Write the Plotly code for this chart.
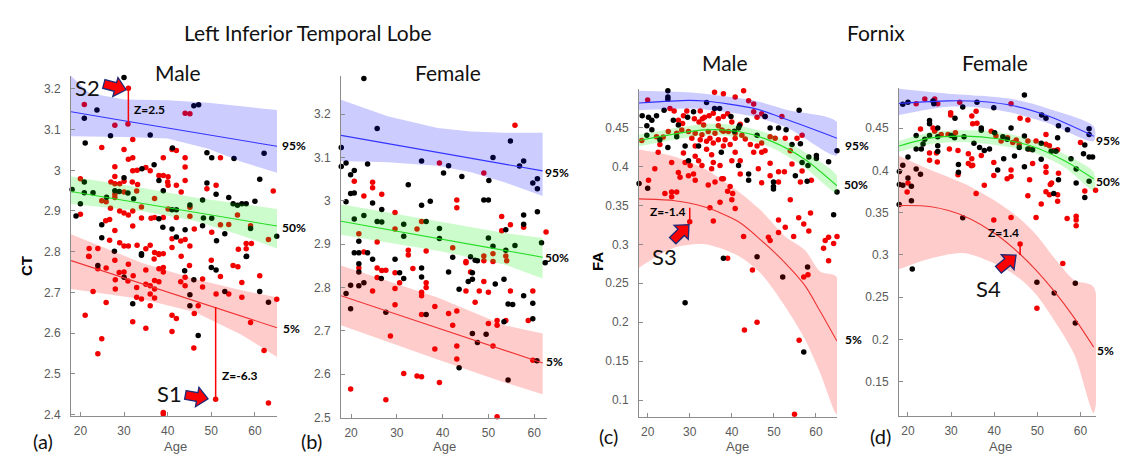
import math
import plotly.graph_objects as go

W, H = 1130, 455

# ---------------- tick labels ----------------
x_ticks = [20, 30, 40, 50, 60]
a_yticks = [2.4, 2.5, 2.6, 2.7, 2.8, 2.9, 3.0, 3.1, 3.2]
a_ytext = ["2.4", "2.5", "2.6", "2.7", "2.8", "2.9", "3", "3.1", "3.2"]
b_yticks = [2.5, 2.6, 2.7, 2.8, 2.9, 3.0, 3.1, 3.2]
b_ytext = ["2.5", "2.6", "2.7", "2.8", "2.9", "3", "3.1", "3.2"]
c_yticks = [0.1, 0.15, 0.2, 0.25, 0.3, 0.35, 0.4, 0.45]
c_ytext = ["0.1", "0.15", "0.2", "0.25", "0.3", "0.35", "0.4", "0.45"]
d_yticks = [0.15, 0.2, 0.25, 0.3, 0.35, 0.4, 0.45]
d_ytext = ["0.15", "0.2", "0.25", "0.3", "0.35", "0.4", "0.45"]

# ---------------- (a) Left inferior temporal lobe, male ----------------
a_black_age = [30.0, 20.9, 23.8, 21.1, 26.9, 36.0, 46.0, 47.1, 41.1, 49.0, 50.1, 55.2, 62.1, 34.1, 36.9, 30.0,
               38.0, 39.0, 20.9, 18.1, 19.0, 20.0, 20.9, 22.9, 26.0, 27.9, 28.9, 30.9, 32.2, 41.0, 42.0, 45.1,
               49.0, 51.1, 48.0, 54.0, 55.0, 56.0, 57.0, 58.0, 60.0, 61.1, 65.0, 59.0, 53.1, 50.1, 48.2, 51.2,
               48.0, 38.9, 38.0, 41.0, 42.0, 44.0, 24.9, 24.9, 27.8, 34.0, 58.0,
               24.0, 30.0, 32.0, 34.0, 43.9, 46.0, 45.1, 45.1, 47.0, 50.0, 51.1, 53.1, 58.1, 61.1, 63.1]
a_black_ct = [3.228, 3.128, 3.148, 3.067, 3.085, 3.087, 3.159, 3.161, 3.055, 3.043, 3.031, 3.029, 3.042, 3.004, 3.014, 2.982,
              2.975, 2.950, 2.971, 2.953, 2.888, 2.918, 2.945, 2.945, 2.934, 2.950, 2.948, 2.944, 2.930, 2.903, 2.903, 2.915,
              2.969, 2.941, 2.927, 2.933, 2.918, 2.914, 2.918, 2.918, 2.924, 2.978, 2.838, 2.857, 2.844, 2.882, 2.883, 2.827,
              2.864, 2.860, 2.881, 2.856, 2.836, 2.854, 2.866, 2.834, 2.801, 2.795, 2.788,
              2.766, 2.737, 2.672, 2.791, 2.753, 2.731, 2.694, 2.667, 2.594, 2.761, 2.755, 2.702, 2.789, 2.702, 2.676]
a_red_age = [20.9, 27.9, 30.9, 44.0, 45.1, 24.9, 30.0, 32.0, 41.0, 42.0, 39.0, 31.0, 32.0, 44.0, 52.1, 27.9,
             32.0, 33.0, 35.0, 36.0, 38.0, 39.0, 40.1, 44.0, 27.9, 27.0, 30.0, 27.9, 29.0, 31.9, 33.1, 40.0,
             40.1, 42.0, 44.0, 43.1, 49.0, 51.1, 64.2, 20.0, 27.9, 30.0, 32.9, 27.9, 25.9, 24.9, 20.0, 26.9,
             29.0, 30.0, 31.0, 32.0, 34.0, 37.0, 40.1, 37.0, 36.2, 39.0, 42.0, 45.1, 45.1, 32.0, 34.0, 25.8,
             26.7, 27.9, 26.7, 29.0, 30.0, 31.0, 33.0, 35.0, 36.0, 37.0, 38.0, 39.0, 41.0, 41.0, 43.0, 44.0,
             45.1, 46.1, 50.1, 52.1, 54.0, 56.0, 59.0, 63.1, 56.2, 58.0, 58.0, 22.0, 22.0, 24.0, 59.2, 43.1,
             21.9, 24.0, 25.9, 27.9, 28.0, 28.0, 28.9, 30.0, 31.0, 30.9, 32.1, 32.9, 32.9, 32.0, 34.0, 35.0,
             35.0, 36.0, 36.0, 36.0, 36.9, 38.0, 37.0, 37.0, 37.0, 38.0, 39.0, 39.0, 38.0, 43.0, 44.0, 44.0,
             45.0, 41.0, 42.0, 41.0, 35.0, 21.1, 22.9, 24.0, 24.9, 25.9, 46.0, 46.1, 47.0, 48.0, 48.0, 50.0,
             51.1, 52.1, 54.0, 55.0, 56.1, 57.0, 57.0, 59.0, 61.1, 62.1, 65.0, 63.1, 39.0, 39.0]
a_red_ct = [3.162, 3.111, 3.114, 3.140, 3.139, 3.056, 3.051, 3.076, 3.051, 3.049, 3.031, 3.027, 3.031, 3.031, 3.031, 3.009,
            2.999, 3.000, 3.007, 2.999, 2.987, 2.987, 2.984, 3.008, 2.985, 2.971, 2.973, 2.967, 2.967, 2.971, 2.965, 2.971,
            2.963, 2.963, 2.975, 2.947, 2.955, 2.963, 2.949, 2.979, 2.941, 2.947, 2.949, 2.933, 2.923, 2.925, 2.892, 2.907,
            2.900, 2.895, 2.890, 2.900, 2.910, 2.931, 2.905, 2.884, 2.882, 2.884, 2.884, 2.887, 2.909, 2.863, 2.883, 2.876,
            2.879, 2.852, 2.828, 2.822, 2.814, 2.814, 2.816, 2.807, 2.816, 2.798, 2.795, 2.795, 2.810, 2.832, 2.826, 2.830,
            2.814, 2.856, 2.848, 2.866, 2.867, 2.890, 2.864, 2.830, 2.806, 2.820, 2.807, 2.808, 2.788, 2.808, 2.820, 2.789,
            2.789, 2.758, 2.760, 2.779, 2.731, 2.708, 2.749, 2.750, 2.769, 2.728, 2.741, 2.712, 2.688, 2.628, 2.684, 2.755,
            2.720, 2.716, 2.696, 2.667, 2.782, 2.793, 2.729, 2.708, 2.686, 2.758, 2.750, 2.761, 2.726, 2.726, 2.737, 2.716,
            2.766, 2.644, 2.636, 2.604, 2.612, 2.644, 2.702, 2.549, 2.586, 2.675, 2.563, 2.648, 2.667, 2.733, 2.713, 2.779,
            2.696, 2.739, 2.696, 2.766, 2.763, 2.724, 2.688, 2.626, 2.741, 2.557, 2.683, 2.428, 2.405, 2.401]
a95_age = [17.85, 22, 30, 40, 49.3, 56.9, 65.06]
a95_up = [3.232, 3.190, 3.174, 3.172, 3.166, 3.158, 3.148]
a95_lo = [3.084, 3.083, 3.082, 3.078, 3.053, 3.021, 2.994]
a95_line = [3.144, 3.136, 3.122, 3.104, 3.087, 3.073, 3.059]
a50_age = [17.85, 34, 46.2, 56.9, 65.06]
a50_up = [2.985, 2.957, 2.933, 2.917, 2.905]
a50_lo = [2.917, 2.900, 2.876, 2.840, 2.808]
a50_line = [2.948, 2.919, 2.897, 2.878, 2.863]
a5_age = [17.85, 34, 46.2, 56.9, 65.06]
a5_up = [2.843, 2.773, 2.733, 2.705, 2.688]
a5_lo = [2.708, 2.684, 2.652, 2.596, 2.541]
a5_line = [2.778, 2.722, 2.679, 2.641, 2.613]
a_s_age = [31.0, 51.0]
a_s_val = [3.202, 2.437]
a_s_base = [3.113, 2.664]

# ---------------- (b) Left inferior temporal lobe, female ----------------
b_black_age = [22.8, 17.85, 17.85, 18.9, 19.9, 20.7, 19.9, 20.7, 18.9, 23.6, 25.7, 24.7, 26.7, 32.5, 35.4, 35.4,
               37.3, 41.3, 40.2, 44.2, 49.0, 50.0, 50.1, 51.0, 54.8, 56.8, 57.7, 59.7, 60.7, 60.7, 60.7, 61.6,
               57.7, 57.7, 53.8, 55.8, 53.8, 50.0, 51.0, 46.1, 47.1, 42.2, 39.3, 39.3, 36.4, 31.5, 31.5, 29.6,
               25.7, 26.7, 22.8, 20.7, 21.7, 20.7, 21.7, 23.6, 24.7, 21.7,
               21.7, 21.7, 22.8, 26.6, 19.9, 18.9, 19.9, 27.6, 30.6, 31.5, 35.4, 35.4, 36.4, 41.3, 43.6, 45.6,
               46.5, 46.5, 47.6, 43.6, 46.5, 47.6, 49.5, 51.5, 53.4, 53.4, 54.3, 55.3, 54.3, 57.7, 59.7, 59.7,
               60.6, 62.4]
b_black_ct = [3.282, 3.123, 3.079, 3.087, 3.060, 3.070, 3.017, 3.018, 2.998, 3.085, 3.167, 2.995, 2.980, 3.037, 3.092, 2.990,
              2.999, 3.081, 3.064, 3.056, 3.002, 3.002, 3.047, 3.100, 3.138, 3.080, 3.092, 3.041, 3.051, 3.028, 2.975, 2.903,
              2.967, 2.946, 2.933, 2.897, 2.886, 2.914, 2.895, 2.871, 2.863, 2.870, 2.936, 2.913, 2.952, 2.946, 2.918, 2.865,
              2.952, 2.951, 2.966, 2.958, 2.907, 2.880, 2.880, 2.880, 2.865, 2.855,
              2.836, 2.804, 2.811, 2.821, 2.805, 2.786, 2.751, 2.743, 2.834, 2.821, 2.845, 2.824, 2.738, 2.836, 2.796, 2.814,
              2.819, 2.834, 2.862, 2.615, 2.694, 2.673, 2.692, 2.808, 2.819, 2.721, 2.762, 2.761, 2.587, 2.781, 2.764, 2.728,
              2.631, 2.857]
b_red_age = [55.8, 39.3, 49.0, 20.7, 24.7, 24.7, 26.7, 22.8, 43.1, 43.1, 29.6, 35.4, 52.9, 52.9, 54.8, 57.7,
             62.6, 21.7, 25.7, 29.6, 34.4, 32.5, 32.5, 36.4, 42.2, 45.1, 49.0, 51.0, 53.8, 22.8,
             21.7, 24.7, 25.7, 25.7, 26.7, 27.6, 29.6, 29.6, 29.6, 30.6, 28.6, 27.6, 19.9, 31.5, 34.4, 35.4,
             39.3, 38.3, 38.3, 35.4, 35.4, 36.4, 36.4, 33.5, 35.4, 41.3, 42.2, 43.1, 43.1, 43.1, 45.1, 45.1,
             46.1, 47.1, 48.0, 49.0, 50.0, 50.0, 51.0, 51.9, 51.9, 54.8, 53.8, 51.9, 59.7, 59.7, 58.7, 49.0,
             51.0, 54.0]
b_red_ct = [3.174, 3.087, 3.064, 3.045, 3.043, 3.030, 3.015, 3.011, 3.002, 2.984, 2.973, 2.952, 2.964, 2.931, 2.945, 2.939,
            2.928, 2.924, 2.905, 2.935, 2.935, 2.886, 2.875, 2.884, 2.892, 2.860, 2.873, 2.878, 2.873, 2.882,
            2.845, 2.792, 2.845, 2.823, 2.839, 2.840, 2.834, 2.798, 2.760, 2.811, 2.688, 2.541, 2.566, 2.602, 2.596, 2.594,
            2.581, 2.658, 2.756, 2.789, 2.781, 2.811, 2.800, 2.844, 2.738, 2.740, 2.713, 2.746, 2.665, 2.635, 2.857, 2.792,
            2.836, 2.766, 2.792, 2.814, 2.789, 2.717, 2.665, 2.713, 2.724, 2.792, 2.724, 2.502, 2.792, 2.632, 2.724, 2.862,
            2.860, 2.862]
b95_age = [17.8, 28, 38.9, 46.2, 53.5, 61.85]
b95_up = [3.233, 3.195, 3.168, 3.160, 3.157, 3.157]
b95_lo = [3.092, 3.089, 3.081, 3.066, 3.043, 3.011]
b95_line = [3.151, 3.132, 3.112, 3.098, 3.085, 3.069]
b50_age = [17.8, 38.9, 53.5, 61.85]
b50_up = [2.992, 2.953, 2.926, 2.914]
b50_lo = [2.922, 2.885, 2.853, 2.821]
b50_line = [2.953, 2.913, 2.886, 2.870]
b5_age = [17.8, 38.9, 53.5, 61.85]
b5_up = [2.851, 2.777, 2.713, 2.694]
b5_lo = [2.713, 2.634, 2.581, 2.554]
b5_line = [2.781, 2.707, 2.655, 2.626]

# ---------------- (c) Fornix, male ----------------
c_black_age = [24.8, 24.8, 24.8, 18.7, 20.2, 21.0, 19.8, 21.0, 19.8, 23.9, 22.1, 26.1, 27.3, 29.5, 30.9, 34.0,
               35.9, 37.1, 39.8, 41.8, 40.6, 43.6, 46.0, 47.9, 49.1, 51.1, 52.9, 54.3, 56.0, 56.3, 58.3, 60.1,
               60.1, 63.0, 65.0, 65.0, 64.2, 57.9, 55.1, 58.1, 49.9, 49.9, 49.9, 44.0, 44.0, 41.6, 41.6, 29.7,
               26.9, 24.8, 22.9, 20.0, 17.95, 28.9, 32.1, 37.5, 56.7,
               38.0, 28.9, 46.0, 52.1, 58.0, 57.1]
c_black_fa = [0.497, 0.489, 0.486, 0.465, 0.463, 0.459, 0.452, 0.447, 0.440, 0.472, 0.465, 0.459, 0.453, 0.463, 0.470, 0.482,
              0.474, 0.474, 0.464, 0.452, 0.445, 0.459, 0.440, 0.464, 0.449, 0.449, 0.447, 0.428, 0.472, 0.429, 0.412, 0.414,
              0.410, 0.406, 0.420, 0.367, 0.338, 0.381, 0.388, 0.401, 0.380, 0.374, 0.371, 0.390, 0.382, 0.401, 0.449, 0.407,
              0.438, 0.424, 0.434, 0.372, 0.378, 0.426, 0.426, 0.418, 0.405,
              0.282, 0.225, 0.284, 0.258, 0.271, 0.162]
c_red_age = [20.0, 35.9, 38.0, 42.8, 44.0, 45.2, 40.8, 25.3, 26.3, 28.5, 29.3, 32.5, 33.5, 34.6, 35.6, 31.1,
             32.2, 33.0, 33.3, 27.3, 28.3, 36.8, 38.0, 39.0, 36.8, 38.0, 40.0, 42.0, 45.2, 46.0, 47.1, 47.9,
             51.9, 49.1, 50.3, 47.1, 47.9, 45.2, 47.1, 52.7, 55.5, 56.7, 53.9, 52.5, 54.3, 58.9, 56.3, 56.7,
             51.1, 51.1, 49.1, 49.1, 46.3, 47.1, 40.8, 42.0, 42.0, 40.0, 39.6, 40.2, 38.0, 37.2, 38.0, 35.2,
             35.6, 35.2, 34.0, 32.9, 31.3, 31.3, 32.1, 30.1, 30.9, 28.5, 28.9, 27.3, 27.7, 25.7, 22.5, 22.9,
             21.7, 20.2, 26.9, 25.7, 35.6, 36.8, 38.4, 39.6, 40.8, 26.9, 28.1, 29.7, 31.3, 32.9, 34.4, 36.0,
             37.6, 39.2, 40.8, 30.5, 32.5, 34.0, 34.8, 24.9, 23.7, 22.1, 18.6, 44.4, 46.0, 43.2, 42.4, 40.0,
             39.0, 37.6, 37.2, 35.6, 34.8, 40.8, 42.8, 49.1, 48.7, 51.1, 51.1, 52.7, 53.9, 54.7, 55.9, 57.1,
             58.7, 58.3, 62.2, 63.0, 65.0, 64.2, 61.8, 63.0, 34.4, 36.0, 24.1, 25.7, 29.7, 31.3,
             39.0, 44.9, 46.0, 43.0, 57.1, 58.1, 56.0, 54.9]
c_red_fa = [0.485, 0.495, 0.493, 0.497, 0.484, 0.480, 0.489, 0.474, 0.471, 0.465, 0.471, 0.471, 0.463, 0.465, 0.468, 0.461,
            0.457, 0.461, 0.453, 0.459, 0.455, 0.461, 0.464, 0.4675, 0.452, 0.445, 0.457, 0.454, 0.470, 0.463, 0.4675, 0.464,
            0.464, 0.438, 0.436, 0.430, 0.420, 0.418, 0.418, 0.436, 0.436, 0.440, 0.420, 0.393, 0.403, 0.382, 0.380, 0.394,
            0.393, 0.380, 0.404, 0.388, 0.397, 0.379, 0.418, 0.407, 0.390, 0.407, 0.374, 0.365, 0.426, 0.401, 0.384, 0.415,
            0.405, 0.397, 0.422, 0.401, 0.426, 0.413, 0.407, 0.401, 0.390, 0.417, 0.405, 0.392, 0.386, 0.405, 0.418, 0.428,
            0.397, 0.382, 0.367, 0.361, 0.430, 0.434, 0.434, 0.428, 0.436, 0.4425, 0.4467, 0.4446, 0.4425, 0.4404, 0.4446, 0.4425,
            0.4467, 0.4446, 0.4425, 0.436, 0.434, 0.432, 0.436, 0.4446, 0.4375, 0.438, 0.433, 0.428, 0.426, 0.435, 0.440, 0.357,
            0.368, 0.384, 0.354, 0.330, 0.347, 0.346, 0.310, 0.305, 0.309, 0.331, 0.315, 0.322, 0.357, 0.310, 0.334, 0.326,
            0.340, 0.317, 0.305, 0.309, 0.310, 0.301, 0.295, 0.279, 0.376, 0.380, 0.365, 0.367, 0.388, 0.382,
            0.282, 0.267, 0.200, 0.190, 0.258, 0.261, 0.177, 0.082]
c95_age = [17.94, 29.7, 33.6, 45.5, 53.4, 65.0]
c95_line = [0.4812, 0.4846, 0.4837, 0.474, 0.4593, 0.436]
c95_up = [0.497, 0.495, 0.493, 0.484, 0.472, 0.457]
c95_lo = [0.472, 0.474, 0.473, 0.4635, 0.4487, 0.414]
c50_age = [17.94, 33.6, 41.6, 49.5, 57.4, 65.0]
c50_line = [0.4332, 0.4467, 0.4446, 0.432, 0.4088, 0.375]
c50_up = [0.4404, 0.4543, 0.452, 0.4404, 0.418, 0.3878]
c50_lo = [0.4256, 0.4395, 0.437, 0.4238, 0.3982, 0.366]
c5_age = [17.94, 26, 33.6, 41.6, 47, 52.7, 57.4, 61, 65.0]
c5_line = [0.3583, 0.3562, 0.3477, 0.3288, 0.305, 0.276, 0.247, 0.214, 0.1756]
c5_up = [0.4215, 0.413, 0.3967, 0.3675, 0.343, 0.31, 0.2925, 0.265, 0.2576]
c5_lo = [0.27, 0.295, 0.30, 0.285, 0.262, 0.22, 0.178, 0.135, 0.082]
c_s_age = [30.0]
c_s_val = [0.329]
c_s_base = [0.347]

# ---------------- (d) Fornix, female ----------------
d_black_age = [18.8, 20.0, 25.8, 26.0, 36.0, 39.9, 47.0, 51.0, 52.0, 54.9, 57.0, 62.0, 62.0, 61.0, 62.8, 62.0,
               60.7, 25.0, 25.0, 26.9, 26.9, 30.9, 32.7, 37.0, 37.0, 37.7, 38.9, 40.8, 42.2, 44.7, 47.0, 47.0,
               43.9, 50.9, 53.2, 54.3, 54.9, 54.7, 53.8, 57.8, 59.0, 59.0, 61.0, 62.0, 31.7, 31.7, 26.9, 26.9,
               23.5, 21.9, 23.1, 21.9, 23.9, 20.0, 18.8, 18.0, 20.0, 20.8, 18.8, 18.0, 21.9, 22.9, 20.8, 17.95,
               32.7, 25.0, 30.0, 30.8, 35.3, 50.9, 48.9, 47.8, 45.8, 36.6, 33.0, 40.1, 42.0, 43.0,
               21.0, 49.9, 53.9, 58.8, 58.8]
d_black_fa = [0.478, 0.4805, 0.482, 0.4786, 0.4805, 0.474, 0.489, 0.4653, 0.4615, 0.4527, 0.448, 0.449, 0.4424, 0.430, 0.4156, 0.4156,
              0.4195, 0.4588, 0.455, 0.450, 0.4397, 0.4615, 0.4748, 0.450, 0.4473, 0.4233, 0.4252, 0.4004, 0.4137, 0.4168, 0.4405, 0.4042,
              0.450, 0.413, 0.4225, 0.4225, 0.3889, 0.4385, 0.3725, 0.4137, 0.4015, 0.3851, 0.3679, 0.387, 0.4069, 0.3977, 0.4221, 0.429,
              0.431, 0.4252, 0.4252, 0.4412, 0.4366, 0.4156, 0.4061, 0.3985, 0.3908, 0.3813, 0.3824, 0.3832, 0.4015, 0.3954, 0.3641, 0.3595,
              0.3439, 0.4412, 0.4412, 0.4385, 0.432, 0.432, 0.4244, 0.4252, 0.4271, 0.4271, 0.4397, 0.4443, 0.4397, 0.4366,
              0.2832, 0.2678, 0.255, 0.2666, 0.2195]
d_red_age = [21.9, 23.9, 26.2, 26.9, 32.0, 43.9, 46.0, 47.8, 29.9, 29.9, 34.8, 35.8, 22.9, 25.8, 26.2, 27.7,
             29.3, 31.0, 35.0, 36.0, 39.3, 40.4, 41.6, 43.1, 44.3, 45.1, 45.8, 47.8, 48.2, 49.7, 52.0, 52.0,
             52.8, 53.8, 54.7, 60.0, 25.0, 26.6, 25.0, 26.8, 29.6, 31.6, 34.0, 34.8, 35.0, 37.0, 31.6, 34.0,
             34.7, 39.9, 39.9, 43.9, 43.9, 43.0, 48.2, 48.9, 47.8, 49.7, 50.9, 52.0, 52.0, 52.0, 53.0, 52.8,
             54.7, 54.7, 54.9, 56.9, 59.0, 59.0, 59.0, 61.0, 63.5, 53.3, 37.7, 35.8, 39.9, 43.9, 19.8, 20.0,
             49.9, 55.9]
d_red_fa = [0.4786, 0.4844, 0.4844, 0.4786, 0.4805, 0.4786, 0.4615, 0.4595, 0.4679, 0.4653, 0.4641, 0.4698, 0.4489, 0.450, 0.4462, 0.4424,
            0.4424, 0.4443, 0.455, 0.4557, 0.4462, 0.4405, 0.4347, 0.4385, 0.4328, 0.4359, 0.4309, 0.4347, 0.4252, 0.4347, 0.4424, 0.4309,
            0.429, 0.4233, 0.4244, 0.4328, 0.4206, 0.4206, 0.4118, 0.4099, 0.4252, 0.4233, 0.4195, 0.4137, 0.4061, 0.4176, 0.3947, 0.408,
            0.4053, 0.4092, 0.3939, 0.4004, 0.3927, 0.3901, 0.3889, 0.408, 0.3699, 0.3443, 0.3603, 0.4042, 0.3977, 0.3748, 0.3832, 0.371,
            0.371, 0.3634, 0.3966, 0.3431, 0.3458, 0.3412, 0.3344, 0.3756, 0.3763, 0.385, 0.3824, 0.3725, 0.3412, 0.3443, 0.3744, 0.3851,
            0.2369, 0.2898]
d95_age = [17.92, 29.3, 37.0, 44.7, 52.4, 63.06]
d95_line = [0.479, 0.4821, 0.4813, 0.476, 0.4644, 0.4404]
d95_up = [0.4964, 0.4906, 0.488, 0.4837, 0.4732, 0.452]
d95_lo = [0.4655, 0.4752, 0.474, 0.4674, 0.4558, 0.4346]
d50_age = [17.92, 25.4, 33.1, 40.8, 48.6, 56.3, 63.06]
d50_line = [0.4288, 0.4384, 0.4404, 0.4373, 0.4288, 0.4114, 0.390]
d50_up = [0.4346, 0.445, 0.4473, 0.445, 0.4365, 0.4191, 0.3978]
d50_lo = [0.4218, 0.431, 0.4334, 0.4295, 0.4218, 0.4036, 0.3766]
d5_age = [17.92, 25.4, 33.1, 40.8, 45.9, 49.9, 54.0, 58.6, 63.06]
d5_line = [0.3583, 0.3569, 0.3458, 0.323, 0.3014, 0.2809, 0.2565, 0.2252, 0.191]
d5_up = [0.4172, 0.400, 0.384, 0.362, 0.343, 0.323, 0.296, 0.270, 0.2621]
d5_lo = [0.283, 0.296, 0.302, 0.288, 0.272, 0.252, 0.222, 0.182, 0.113]
d_s_age = [46.0]
d_s_val = [0.3128]
d_s_base = [0.300]

# ---------------- style ----------------
RED = "#f20000"
BLACK = "#000000"
BAND = {"95": "rgba(0,0,255,0.2)", "50": "rgba(0,235,0,0.2)", "5": "rgba(255,0,0,0.2)"}
LINE = {"95": "#3333ff", "50": "#22dd22", "5": "#ee3333"}
TICKFONT = dict(family="Liberation Sans, Arial", size=12, color="#5a5a5a")
CAL = "Lato, Carlito, Calibri, sans-serif"

fig = go.Figure()

panels = [
    dict(ax="", red=(a_red_age, a_red_ct), black=(a_black_age, a_black_ct),
         bands=[("95", a95_age, a95_up, a95_lo, a95_line, "linear"),
                ("50", a50_age, a50_up, a50_lo, a50_line, "linear"),
                ("5", a5_age, a5_up, a5_lo, a5_line, "linear")],
         s=(a_s_age, a_s_val, a_s_base)),
    dict(ax="2", red=(b_red_age, b_red_ct), black=(b_black_age, b_black_ct),
         bands=[("95", b95_age, b95_up, b95_lo, b95_line, "linear"),
                ("50", b50_age, b50_up, b50_lo, b50_line, "linear"),
                ("5", b5_age, b5_up, b5_lo, b5_line, "linear")],
         s=None),
    dict(ax="3", red=(c_red_age, c_red_fa), black=(c_black_age, c_black_fa),
         bands=[("95", c95_age, c95_up, c95_lo, c95_line, "spline"),
                ("50", c50_age, c50_up, c50_lo, c50_line, "spline"),
                ("5", c5_age, c5_up, c5_lo, c5_line, "spline")],
         s=(c_s_age, c_s_val, c_s_base)),
    dict(ax="4", red=(d_red_age, d_red_fa), black=(d_black_age, d_black_fa),
         bands=[("95", d95_age, d95_up, d95_lo, d95_line, "spline"),
                ("50", d50_age, d50_up, d50_lo, d50_line, "spline"),
                ("5", d5_age, d5_up, d5_lo, d5_line, "spline")],
         s=(d_s_age, d_s_val, d_s_base)),
]

for p in panels:
    xa, ya = "x" + p["ax"], "y" + p["ax"]
    fig.add_trace(go.Scatter(x=p["red"][0], y=p["red"][1], mode="markers", xaxis=xa, yaxis=ya,
                             marker=dict(color=RED, size=5.5), cliponaxis=False, hoverinfo="skip"))
    fig.add_trace(go.Scatter(x=p["black"][0], y=p["black"][1], mode="markers", xaxis=xa, yaxis=ya,
                             marker=dict(color=BLACK, size=5.5), cliponaxis=False, hoverinfo="skip"))
    for key, ages, up, lo, line, shape in p["bands"]:
        fig.add_trace(go.Scatter(x=list(ages) + list(ages)[::-1], y=list(up) + list(lo)[::-1],
                                 mode="lines", fill="toself", fillcolor=BAND[key],
                                 line=dict(width=0, shape=shape, smoothing=0.8), xaxis=xa, yaxis=ya,
                                 hoverinfo="skip"))
        fig.add_trace(go.Scatter(x=ages, y=line, mode="lines", xaxis=xa, yaxis=ya,
                                 line=dict(color=LINE[key], width=1.1, shape=shape, smoothing=0.8),
                                 hoverinfo="skip"))
    if p["s"]:
        s_age, s_val, s_base = p["s"]
        for i in range(len(s_age)):
            fig.add_trace(go.Scatter(x=[s_age[i], s_age[i]], y=[s_val[i], s_base[i]], mode="lines",
                                     xaxis=xa, yaxis=ya, line=dict(color="#ff0000", width=1.5),
                                     hoverinfo="skip"))
        fig.add_trace(go.Scatter(x=s_age, y=s_val, mode="markers", xaxis=xa, yaxis=ya,
                                 marker=dict(color=RED, size=5.5), cliponaxis=False, hoverinfo="skip"))


# ---------------- axes ----------------
def fx(p):
    return p / W


def fy(p):
    return 1 - p / H


axis_common = dict(showgrid=False, zeroline=False, showline=True, linecolor="#8c8c8c", linewidth=1,
                   ticks="inside", ticklen=4, tickcolor="#8c8c8c", tickfont=TICKFONT, mirror=False)

layout_axes = {}
specs = [
    ("", (63, 269), (414, 69), (17.85, 65.06), (2.397, 3.232), a_yticks, a_ytext),
    ("2", (333, 539), (416, 69), (17.8, 62.8), (2.5, 3.288), b_yticks, b_ytext),
    ("3", (631, 829), (415, 82), (17.94, 65.0), (0.079, 0.4995), c_yticks, c_ytext),
    ("4", (891, 1088), (414, 81), (17.92, 63.6), (0.11, 0.4976), d_yticks, d_ytext),
]
for ax, (x0, x1), (y0, y1), xr, yr, yt, ytt in specs:
    layout_axes["xaxis" + ax] = dict(domain=[fx(x0), fx(x1)], range=list(xr), anchor="y" + ax,
                                     tickvals=x_ticks, ticklabelstandoff=4, **axis_common)
    layout_axes["yaxis" + ax] = dict(domain=[fy(y0), fy(y1)], range=list(yr), anchor="x" + ax,
                                     tickvals=yt, ticktext=ytt, ticklabelstandoff=7, **axis_common)

fig.update_layout(width=W, height=H, margin=dict(l=0, r=0, t=0, b=0), showlegend=False,
                  paper_bgcolor="white", plot_bgcolor="white", **layout_axes)

# ---------------- text ----------------
texts = [
    ("Left Inferior Temporal Lobe", 300, 25, 21, "#111", False, CAL),
    ("Fornix", 868, 25, 21, "#111", False, CAL),
    ("Male", 170, 66, 21, "#111", False, CAL),
    ("Female", 440, 66, 21, "#111", False, CAL),
    ("Male", 717, 55, 21, "#111", False, CAL),
    ("Female", 987, 55, 21, "#111", False, CAL),
    ("95%", 286, 140, 12, "#000", True, CAL),
    ("50%", 286, 223, 12, "#000", True, CAL),
    ("5%", 283, 326, 12, "#000", True, CAL),
    ("95%", 549, 167, 12, "#000", True, CAL),
    ("50%", 549, 253, 12, "#000", True, CAL),
    ("5%", 546, 359, 12, "#000", True, CAL),
    ("95%", 849, 140, 12, "#000", True, CAL),
    ("50%", 848, 179, 12, "#000", True, CAL),
    ("5%", 845, 337, 12, "#000", True, CAL),
    ("95%", 1100, 135, 12, "#000", True, CAL),
    ("50%", 1100, 176, 12, "#000", True, CAL),
    ("5%", 1097, 348, 12, "#000", True, CAL),
    ("Z=2.5", 141, 103, 12, "#000", True, CAL),
    ("Z=-6.3", 232, 373, 12, "#000", True, CAL),
    ("Z=-1.4", 660, 207, 12, "#000", True, CAL),
    ("Z=1.4", 995, 228, 12, "#000", True, CAL),
    ("S2", 79, 81, 22, "#111", False, CAL),
    ("S1", 161, 392, 22, "#111", False, CAL),
    ("S3", 656, 252, 22, "#111", False, CAL),
    ("S4", 980, 285, 22, "#111", False, CAL),
    ("(a)", 35, 440, 20, "#111", False, CAL),
    ("(b)", 303, 440, 20, "#111", False, CAL),
    ("(c)", 600, 435, 20, "#111", False, CAL),
    ("(d)", 872, 435, 20, "#111", False, CAL),
    ("Age", 167, 445, 13, "#5a5a5a", False, "Liberation Sans, Arial"),
    ("Age", 436, 445, 13, "#5a5a5a", False, "Liberation Sans, Arial"),
    ("Age", 729, 445, 13, "#5a5a5a", False, "Liberation Sans, Arial"),
    ("Age", 992, 445, 13, "#5a5a5a", False, "Liberation Sans, Arial"),
]
for t, x, y, size, color, bold, fam in texts:
    fig.add_annotation(text=("<b>%s</b>" % t) if bold else t, x=fx(x), y=fy(y), xref="paper", yref="paper",
                       showarrow=False, xanchor="center", yanchor="middle",
                       font=dict(size=size, color=color, family=fam))

for t, x, y in [("CT", 19, 262), ("FA", 589, 258)]:
    fig.add_annotation(text="<b>%s</b>" % t, x=fx(x), y=fy(y), xref="paper", yref="paper", showarrow=False,
                       textangle=-90, xanchor="center", yanchor="middle",
                       font=dict(size=15, color="#000", family="Liberation Sans, Arial"))


# ---------------- block arrows ----------------
def arrow_path(cx, cy, ang):
    pts = [(-12, -4.5), (0, -4.5), (0, -10), (11, 0), (0, 10), (0, 4.5), (-12, 4.5)]
    c, s = math.cos(math.radians(ang)), math.sin(math.radians(ang))
    out = []
    for x, y in pts:
        X = cx + x * c - y * s
        Y = cy + x * s + y * c
        out.append((fx(X), fy(Y)))
    return "M " + " L ".join("%.5f,%.5f" % q for q in out) + " Z"


for cx, cy, ang in [(107.4, 80.2, 15), (189.2, 395.1, 10), (673.2, 227.8, -45), (999.6, 258.1, -40)]:
    fig.add_shape(type="path", path=arrow_path(cx, cy, ang), xref="paper", yref="paper",
                  fillcolor="#ff0000", line=dict(color="#1c2a78", width=1.3))

fig.write_html("out.html")
